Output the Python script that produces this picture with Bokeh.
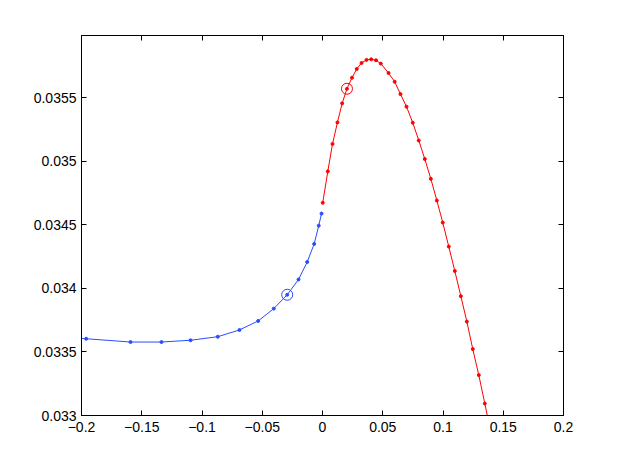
from bokeh.plotting import figure
from bokeh.models import Range1d, FixedTicker, CustomJSTickFormatter, LinearAxis
from bokeh.embed import file_html
from bokeh.resources import INLINE

# Blue branch (x < 0)
blue_x = [-0.235, -0.1961, -0.1593, -0.1336, -0.1095, -0.0869, -0.0689, -0.0534,
          -0.0404, -0.0293, -0.0199, -0.0127, -0.0069, -0.0031, -0.0008]
blue_y = [0.033615, 0.033604, 0.033578, 0.033578, 0.033592, 0.033620, 0.033673, 0.033744,
          0.033841, 0.033950, 0.034070, 0.034208, 0.034350, 0.034494, 0.034589]

# Red branch (x > 0)
red_x = [0.0002, 0.0044, 0.0083, 0.0124, 0.0163, 0.0203, 0.0245, 0.0284, 0.0324, 0.0365,
         0.0404, 0.0444, 0.0484, 0.0548, 0.0599, 0.0647, 0.0697, 0.0749, 0.0799, 0.0849,
         0.0899, 0.0949, 0.0998, 0.1048, 0.1098, 0.1148, 0.1198, 0.1247, 0.1297, 0.1347,
         0.1397]
red_y = [0.034674, 0.034921, 0.035137, 0.035306, 0.035456, 0.035571, 0.035658, 0.035727,
         0.035774, 0.035798, 0.035803, 0.035795, 0.035769, 0.035695, 0.035626, 0.035529,
         0.035430, 0.035304, 0.035164, 0.035018, 0.034862, 0.034692, 0.034518, 0.034329,
         0.034137, 0.033939, 0.033739, 0.033523, 0.033318, 0.033094, 0.032867]

# Highlighted points
blue_mark_x = [-0.0293]
blue_mark_y = [0.033950]
red_mark_x = [0.0203]
red_mark_y = [0.035571]

x_ticks = [-0.2, -0.15, -0.1, -0.05, 0, 0.05, 0.1, 0.15, 0.2]
y_ticks = [0.033, 0.0335, 0.034, 0.0345, 0.035, 0.0355]

BLUE = "#2a4dff"
RED = "#ff0000"
FONT = "Liberation Sans"

p = figure(frame_width=482, frame_height=380, output_backend="svg", toolbar_location=None,
           x_range=Range1d(-0.2, 0.2), y_range=Range1d(0.033, 0.03599),
           min_border_left=81, min_border_top=35, min_border_right=40, min_border_bottom=40,
           background_fill_color="white", border_fill_color="white")
p.grid.visible = False
p.outline_line_color = "black"
p.outline_line_width = 1

fmt = CustomJSTickFormatter(code="""
const v = parseFloat(tick.toPrecision(6));
if (v === 0) return '0';
return (v < 0 ? '\u2212' : '') + Math.abs(v).toString();
""")
empty = CustomJSTickFormatter(code="return '';")

for ax in [p.xaxis[0], p.yaxis[0]]:
    ax.formatter = fmt
    ax.major_tick_in = 5
    ax.major_tick_out = 0
    ax.minor_tick_line_color = None
    ax.axis_line_color = "black"
    ax.major_tick_line_color = "black"
    ax.major_label_text_font = FONT
    ax.major_label_text_font_size = "14px"
    ax.major_label_text_color = "black"
p.xaxis[0].ticker = FixedTicker(ticks=x_ticks)
p.yaxis[0].ticker = FixedTicker(ticks=y_ticks)
p.xaxis[0].major_label_standoff = 6
p.yaxis[0].major_label_standoff = 5

top = LinearAxis(ticker=FixedTicker(ticks=x_ticks), formatter=empty)
right = LinearAxis(ticker=FixedTicker(ticks=y_ticks), formatter=empty)
for ax in [top, right]:
    ax.major_tick_in = 5
    ax.major_tick_out = 0
    ax.minor_tick_line_color = None
    ax.axis_line_color = "black"
    ax.major_tick_line_color = "black"
    ax.major_label_text_font_size = "1px"
p.add_layout(top, "above")
p.add_layout(right, "right")

p.line(blue_x, blue_y, line_color=BLUE, line_width=1)
p.scatter(blue_x, blue_y, marker="circle", size=3, fill_color=BLUE, line_color=BLUE)
p.line(red_x, red_y, line_color=RED, line_width=1)
p.scatter(red_x, red_y, marker="circle", size=3, fill_color=RED, line_color=RED)

p.scatter(blue_mark_x, blue_mark_y, marker="circle", size=11, fill_color=None,
          line_color=BLUE, line_width=1)
p.scatter(red_mark_x, red_mark_y, marker="circle", size=11, fill_color=None,
          line_color=RED, line_width=1)

open("out.html", "w").write(file_html(p, INLINE))
